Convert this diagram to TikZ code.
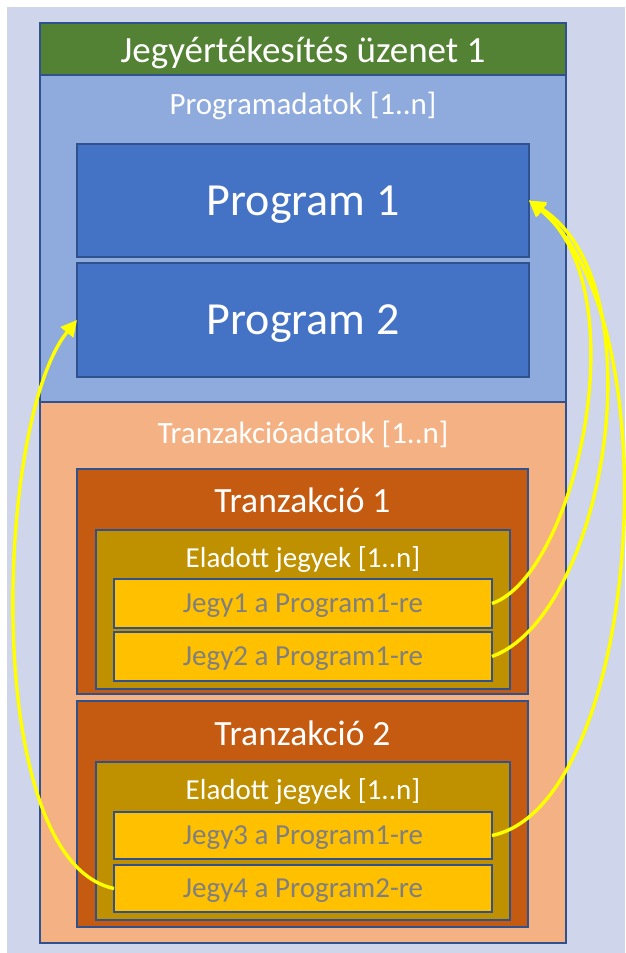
\documentclass[tikz,border=0pt]{standalone}
\usepackage{fontspec}
\setmainfont{Carlito}
\usetikzlibrary{arrows.meta}
\definecolor{bgl}{HTML}{CFD5EA}
\definecolor{bord}{HTML}{2F528F}
\definecolor{hdr}{HTML}{548235}
\definecolor{progarea}{HTML}{8FAADC}
\definecolor{progbox}{HTML}{4472C4}
\definecolor{tranarea}{HTML}{F4B183}
\definecolor{tranbox}{HTML}{C55A11}
\definecolor{soldbox}{HTML}{BF9000}
\definecolor{jegybox}{HTML}{FFC000}
\definecolor{jegytext}{HTML}{7F7F7F}
\definecolor{linky}{HTML}{FFFF00}
\tikzset{
  box/.style={draw=bord, line width=1.6pt, inner sep=0pt, outer sep=0pt, text depth=0pt},
  wtxt/.style={text=white, inner sep=0pt, text depth=0pt},
  jegy/.style={box, fill=jegybox, minimum width=378pt, text=jegytext,
    font=\fontsize{29}{32}\selectfont},
  prog/.style={box, fill=progbox, minimum width=452pt, text=white,
    font=\fontsize{46}{50}\selectfont},
  link/.style={draw=linky, line width=3.4pt, -{Triangle[length=16pt,width=16pt]}}
}
\begin{document}
\begin{tikzpicture}[x=1pt,y=-1pt]
\useasboundingbox (0,0) rectangle (625,953);
\fill[bgl] (7,7) rectangle (625,953);
% outer regions
\node[box, fill=hdr, minimum width=526pt, minimum height=52pt] (header) at (303,49) {};
\node[box, fill=progarea, minimum width=526pt, minimum height=327pt] (progdata) at (303,238.5) {};
\node[box, fill=tranarea, minimum width=526pt, minimum height=541pt] (trandata) at (303,672.5) {};
\node[wtxt, font=\fontsize{37}{40}\selectfont] (title) at (303,50) {Jegyértékesítés üzenet 1};
\node[wtxt, font=\fontsize{31}{34}\selectfont] (proglabel) at (303,103) {Programadatok [1..n]};
\node[wtxt, font=\fontsize{31}{34}\selectfont] (tranlabel) at (303,432) {Tranzakcióadatok [1..n]};
% programs
\node[prog, minimum height=113pt] (p1) at (303,200.5) {Program 1};
\node[prog, minimum height=114pt] (p2) at (303,320) {Program 2};
% transaction 1
\node[box, fill=tranbox, minimum width=451pt, minimum height=225pt] (t1) at (302.5,581.5) {};
\node[wtxt, font=\fontsize{35.5}{38}\selectfont] (t1label) at (302.5,500) {Tranzakció 1};
\node[box, fill=soldbox, minimum width=414pt, minimum height=159pt] (e1) at (303,609.5) {};
\node[wtxt, font=\fontsize{29}{32}\selectfont] (e1label) at (303,557) {Eladott jegyek [1..n]};
\node[jegy, minimum height=49pt] (j1) at (303,603.5) {Jegy1 a Program1-re};
\node[jegy, minimum height=49pt] (j2) at (303,656.5) {Jegy2 a Program1-re};
% transaction 2
\node[box, fill=tranbox, minimum width=451pt, minimum height=226pt] (t2) at (302.5,814) {};
\node[wtxt, font=\fontsize{35.5}{38}\selectfont] (t2label) at (302.5,733) {Tranzakció 2};
\node[box, fill=soldbox, minimum width=414pt, minimum height=158pt] (e2) at (303,841) {};
\node[wtxt, font=\fontsize{29}{32}\selectfont] (e2label) at (303,789) {Eladott jegyek [1..n]};
\node[jegy, minimum height=47pt] (j3) at (303,835.5) {Jegy3 a Program1-re};
\node[jegy, minimum height=47pt] (j4) at (303,888.5) {Jegy4 a Program2-re};
% links
\draw[link] (j1.east) .. controls (575,575) and (640,290) .. (p1.east);
\draw[link] (j2.east) .. controls (605,615) and (660,285) .. (p1.east);
\draw[link] (j3.east) .. controls (640,805) and (675,320) .. (p1.east);
\draw[link] (j4.west) .. controls (-20,860) and (-5,420) .. (p2.west);
\end{tikzpicture}
\end{document}
